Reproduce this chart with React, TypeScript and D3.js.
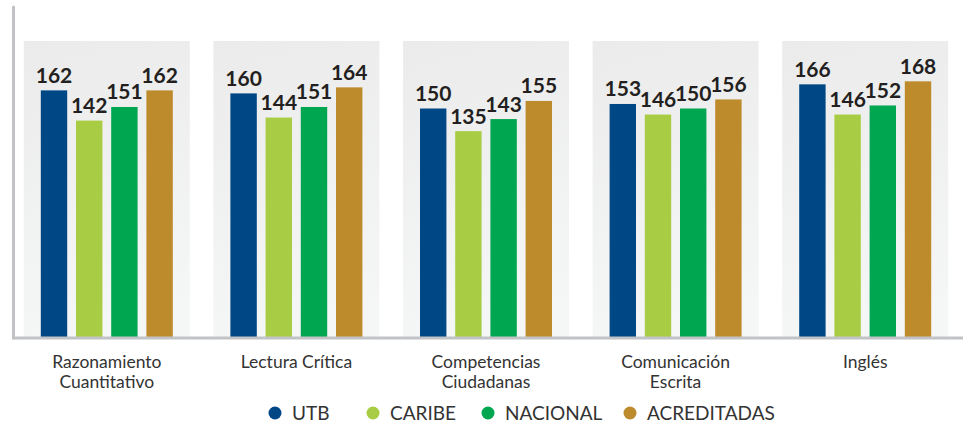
import React from "react";
import * as d3 from "d3";

const categories = [
  ["Razonamiento", "Cuantitativo"],
  ["Lectura Crítica"],
  ["Competencias", "Ciudadanas"],
  ["Comunicación", "Escrita"],
  ["Inglés"],
];
const seriesNames = ["UTB", "CARIBE", "NACIONAL", "ACREDITADAS"];
const utb = [162, 160, 150, 153, 166];
const caribe = [142, 144, 135, 146, 146];
const nacional = [151, 151, 143, 150, 152];
const acreditadas = [162, 164, 155, 156, 168];
const seriesColors = ["#004785", "#a8cd45", "#00a650", "#be8b2c"];

const W = 963;
const H = 425;

export default function App() {
  const seriesValues = [utb, caribe, nacional, acreditadas];
  const catKeys = categories.map((c) => c.join(" "));
  const x0 = d3
    .scaleBand<string>()
    .domain(catKeys)
    .range([12, 960])
    .paddingInner(0.13)
    .paddingOuter(0.065);
  const groupHalf = 66;
  const x1 = d3
    .scaleBand<string>()
    .domain(seriesNames)
    .range([-groupHalf, groupHalf])
    .paddingInner(0.25)
    .paddingOuter(0);
  const y = d3.scaleLinear().domain([0, 200]).range([335, 33]);
  const baseY = 337;
  const panelTop = 41;

  const legendX = [275, 373, 488, 630];

  return (
    <svg
      width={W}
      height={H}
      style={{ position: "absolute", left: 0, top: 0, background: "#fff" }}
      fontFamily="Lato, 'Open Sans', sans-serif"
    >
      <defs>
        <linearGradient id="pbg" x1="0" y1="0" x2="0.15" y2="1">
          <stop offset="0" stopColor="#ebebeb" />
          <stop offset="1" stopColor="#f5f6f6" />
        </linearGradient>
      </defs>
      {catKeys.map((k, i) => {
        const cx = x0(k)! + x0.bandwidth() / 2;
        const bw = 166;
        const bx = cx - bw / 2;
        return (
          <g key={k}>
            <rect x={bx} y={panelTop} width={bw} height={baseY - panelTop} fill="url(#pbg)" />
            {seriesNames.map((s, j) => {
              const v = seriesValues[j][i];
              const rx = cx + x1(s)!;
              const ry = y(v);
              return (
                <g key={s}>
                  <rect x={rx} y={ry} width={x1.bandwidth()} height={baseY - ry} fill={seriesColors[j]} />
                  <text
                    x={rx + x1.bandwidth() / 2}
                    y={ry - 7.5}
                    textAnchor="middle"
                    fontSize={21}
                    fontWeight={700}
                    fill="#231f20"
                  >
                    {v}
                  </text>
                </g>
              );
            })}
            {categories[i].map((line, li) => (
              <text
                key={li}
                x={cx}
                y={368.3 + li * 20}
                textAnchor="middle"
                fontSize={17.5}
                fill="#333333"
              >
                {line}
              </text>
            ))}
          </g>
        );
      })}
      <line x1={13.5} y1={7} x2={13.5} y2={338} stroke="#c2c3c6" strokeWidth={3} strokeLinecap="round" />
      <line x1={12} y1={338} x2={W} y2={338} stroke="#c2c3c6" strokeWidth={3} />
      {seriesNames.map((s, j) => (
        <g key={s}>
          <circle cx={legendX[j]} cy={413} r={6.5} fill={seriesColors[j]} />
          <text x={legendX[j] + 17} y={419.5} fontSize={19} fill="#333333">
            {s}
          </text>
        </g>
      ))}
    </svg>
  );
}
